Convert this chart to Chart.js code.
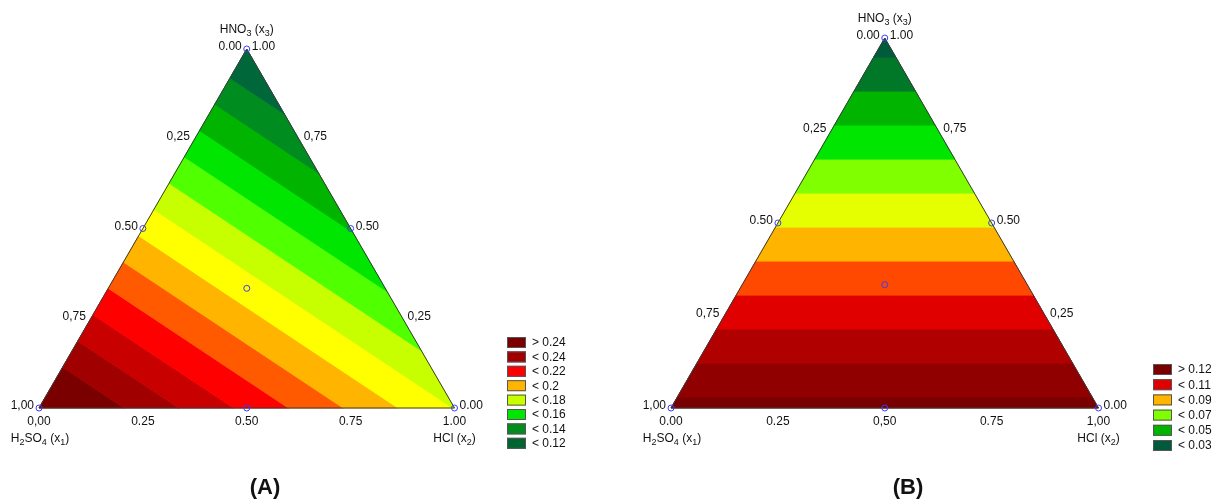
<!DOCTYPE html>
<html><head><meta charset="utf-8">
<script src="https://cdn.jsdelivr.net/npm/chart.js@4.4.1/dist/chart.umd.min.js"></script>
<style>
html,body{margin:0;padding:0;background:#fff;}
#wrap{position:relative;width:1216px;height:500px;overflow:hidden;}
.panel{position:absolute;top:0;width:608px;height:500px;}
</style></head><body>
<div id="wrap">
<div class="panel" style="left:0"><canvas id="cA" width="608" height="500"></canvas></div>
<div class="panel" style="left:608px"><canvas id="cB" width="608" height="500"></canvas></div>
</div>
<script>
// ---------------- data ----------------
const componentTitles = ['H_2SO_4 (x_1)', 'HCl (x_2)', 'HNO_3 (x_3)'];
const tickValues = [0, 0.25, 0.5, 0.75, 1];
// design points (x1, x2, x3) - simplex centroid design
const designPoints = [[1,0,0],[0,1,0],[0,0,1],[0.5,0.5,0],[0.5,0,0.5],[0,0.5,0.5],[1/3,1/3,1/3]];

// Panel A
const captionA = '(A)';
const vertexValuesA = [0.2555, 0.1797, 0.119];   // response at pure x1, x2, x3
const levelsA = [0.12, 0.13, 0.14, 0.15, 0.16, 0.17, 0.18, 0.19, 0.20, 0.21, 0.22, 0.23, 0.24];
const bandColorsA = ['#00673a','#00673a','#008c1e','#00b400','#00e600','#50ff00','#c8ff00','#ffff00','#ffb400','#ff5a00','#ff0000','#c80000','#a00000','#7a0000'];
const legendTextA = ['> 0.24','< 0.24','< 0.22','< 0.2','< 0.18','< 0.16','< 0.14','< 0.12'];
const legendColorsA = ['#7a0000','#a00000','#ff0000','#ffb400','#c8ff00','#00e600','#008c1e','#006432'];
const leftTicksA = ['0.00','0,25','0.50','0,75','1,00'];    // x1 along left edge, top to bottom
const rightTicksA = ['1.00','0,75','0.50','0,25','0.00'];   // x3 along right edge, top to bottom
const bottomTicksA = ['0,00','0.25','0.50','0.75','1.00'];  // x2 along bottom

// Panel B
const captionB = '(B)';
const vertexValuesB = [0.1332, 0.1332, 0.0244];
const levelsB = [0.03, 0.04, 0.05, 0.06, 0.07, 0.08, 0.09, 0.10, 0.11, 0.12, 0.13];
const bandColorsB = ['#005a3c','#007828','#00b400','#00e600','#80ff00','#e6ff00','#ffb400','#ff4800','#e00000','#b00000','#900000','#780000'];
const legendTextB = ['> 0.12','< 0.11','< 0.09','< 0.07','< 0.05','< 0.03'];
const legendColorsB = ['#7a0000','#e00000','#ffb400','#80ff00','#00b400','#005a3c'];
const leftTicksB = ['0.00','0,25','0.50','0,75','1,00'];
const rightTicksB = ['1.00','0,75','0.50','0,25','0.00'];
const bottomTicksB = ['0.00','0.25','0,50','0.75','1,00'];

// ---------------- helpers ----------------
const H = Math.sqrt(3) / 2;
function toXY(t) { return { x: t[1] + t[2] / 2, y: t[2] * H }; }
function clip(poly, vals, level, keepAbove) {
  const out = [], outV = [];
  for (let i = 0; i < poly.length; i++) {
    const j = (i + 1) % poly.length;
    const P = poly[i], Q = poly[j], fp = vals[i], fq = vals[j];
    const inP = keepAbove ? fp >= level : fp <= level;
    const inQ = keepAbove ? fq >= level : fq <= level;
    if (inP) { out.push(P); outV.push(fp); }
    if (inP !== inQ) {
      const r = (level - fp) / (fq - fp);
      out.push({ x: P.x + r * (Q.x - P.x), y: P.y + r * (Q.y - P.y) });
      outV.push(level);
    }
  }
  return [out, outV];
}
function bandPolygon(vv, lo, hi) {
  let poly = [toXY([1,0,0]), toXY([0,1,0]), toXY([0,0,1])];
  let vals = vv.slice();
  if (lo !== null) [poly, vals] = clip(poly, vals, lo, true);
  if (hi !== null && poly.length) [poly, vals] = clip(poly, vals, hi, false);
  return poly;
}
const FONT = '"Liberation Sans", Arial, sans-serif';
function drawRich(ctx, str, x, y, align, size) {
  const segs = []; let cur = '';
  for (let i = 0; i < str.length; i++) {
    if (str[i] === '_') { if (cur) segs.push({ t: cur, sub: false }); cur = ''; segs.push({ t: str[i + 1], sub: true }); i++; }
    else cur += str[i];
  }
  if (cur) segs.push({ t: cur, sub: false });
  const fN = size + 'px ' + FONT, fS = Math.round(size * 0.72) + 'px ' + FONT;
  let w = 0;
  segs.forEach(s => { ctx.font = s.sub ? fS : fN; s.w = ctx.measureText(s.t).width; w += s.w; });
  let sx = align === 'center' ? x - w / 2 : align === 'right' ? x - w : x;
  ctx.textAlign = 'left'; ctx.textBaseline = 'middle';
  segs.forEach(s => { ctx.font = s.sub ? fS : fN; ctx.fillText(s.t, sx, s.sub ? y + size * 0.3 : y); sx += s.w; });
}

function makePanel(id, cfg) {
  const datasets = [];
  datasets.push({
    data: designPoints.map(toXY), showLine: false, pointRadius: 3, pointHoverRadius: 3,
    pointBorderColor: '#3c3cf5', pointBackgroundColor: 'rgba(0,0,0,0)', pointBorderWidth: 1,
    order: 0, clip: false
  });
  const tri = [toXY([1,0,0]), toXY([0,1,0]), toXY([0,0,1]), toXY([1,0,0])];
  datasets.push({ data: tri, showLine: true, fill: false, borderColor: '#3a3a3a', borderWidth: 1, pointRadius: 0, order: 1, clip: false });
  const n = cfg.levels.length;
  for (let i = 0; i <= n; i++) {
    const lo = i === 0 ? null : cfg.levels[i - 1];
    const hi = i === n ? null : cfg.levels[i];
    const poly = bandPolygon(cfg.vertexValues, lo, hi);
    if (poly.length < 3) continue;
    datasets.push({
      data: poly.concat([poly[0]]), showLine: true, fill: 'shape',
      backgroundColor: cfg.bandColors[i], borderColor: cfg.bandColors[i], borderWidth: 1,
      pointRadius: 0, order: 5, clip: false
    });
  }
  const textPlugin = {
    id: 'ternaryText',
    afterDraw(chart) {
      const ctx = chart.ctx, sx = chart.scales.x, sy = chart.scales.y;
      const px = p => ({ x: sx.getPixelForValue(p.x), y: sy.getPixelForValue(p.y) });
      ctx.save();
      ctx.fillStyle = '#111';
      tickValues.forEach((v, i) => {
        const L = px(toXY([v, 0, 1 - v]));
        drawRich(ctx, cfg.leftTicks[i], L.x - 5, L.y - 2, 'right', 12);
        const R = px(toXY([0, v, 1 - v]));
        drawRich(ctx, cfg.rightTicks[i], R.x + 5, R.y - 2, 'left', 12);
        const B = px(toXY([1 - v, v, 0]));
        drawRich(ctx, cfg.bottomTicks[i], B.x, B.y + 14, 'center', 12);
      });
      const v1 = px(toXY([1,0,0])), v2 = px(toXY([0,1,0])), v3 = px(toXY([0,0,1]));
      drawRich(ctx, componentTitles[0], v1.x + 1, v1.y + 31, 'center', 12);
      drawRich(ctx, componentTitles[1], v2.x, v2.y + 31, 'center', 12);
      drawRich(ctx, componentTitles[2], v3.x, v3.y - 19, 'center', 12);
      cfg.legendText.forEach((t, i) => {
        const y = cfg.legendY + i * cfg.legendStep;
        ctx.fillStyle = cfg.legendColors[i];
        ctx.fillRect(cfg.legendX, y, 19, 11);
        ctx.strokeStyle = '#555'; ctx.lineWidth = 1;
        ctx.strokeRect(cfg.legendX + 0.5, y + 0.5, 18, 10);
        ctx.fillStyle = '#111';
        drawRich(ctx, t, cfg.legendX + 25, y + 6, 'left', 12);
      });
      ctx.font = 'bold 22px ' + FONT; ctx.textAlign = 'center'; ctx.textBaseline = 'middle';
      ctx.fillText(cfg.caption, cfg.captionX, 488);
      ctx.restore();
    }
  };
  return new Chart(document.getElementById(id), {
    type: 'scatter',
    data: { datasets },
    options: {
      responsive: false, animation: false, devicePixelRatio: 1,
      layout: { padding: cfg.padding },
      scales: {
        x: { type: 'linear', min: 0, max: 1, display: false },
        y: { type: 'linear', min: 0, max: H, display: false }
      },
      plugins: { legend: { display: false }, tooltip: { enabled: false } },
      elements: { line: { tension: 0 } }
    },
    plugins: [textPlugin]
  });
}

makePanel('cA', {
  vertexValues: vertexValuesA, levels: levelsA, bandColors: bandColorsA,
  legendText: legendTextA, legendColors: legendColorsA,
  leftTicks: leftTicksA, rightTicks: rightTicksA, bottomTicks: bottomTicksA,
  caption: captionA, captionX: 265,
  padding: { left: 39, right: 153.5, top: 49, bottom: 92 },
  legendX: 507, legendY: 337, legendStep: 14.4
});
makePanel('cB', {
  vertexValues: vertexValuesB, levels: levelsB, bandColors: bandColorsB,
  legendText: legendTextB, legendColors: legendColorsB,
  leftTicks: leftTicksB, rightTicks: rightTicksB, bottomTicks: bottomTicksB,
  caption: captionB, captionX: 300,
  padding: { left: 63, right: 117.5, top: 38, bottom: 92 },
  legendX: 545, legendY: 364, legendStep: 15.2
});
</script>
</body></html>
